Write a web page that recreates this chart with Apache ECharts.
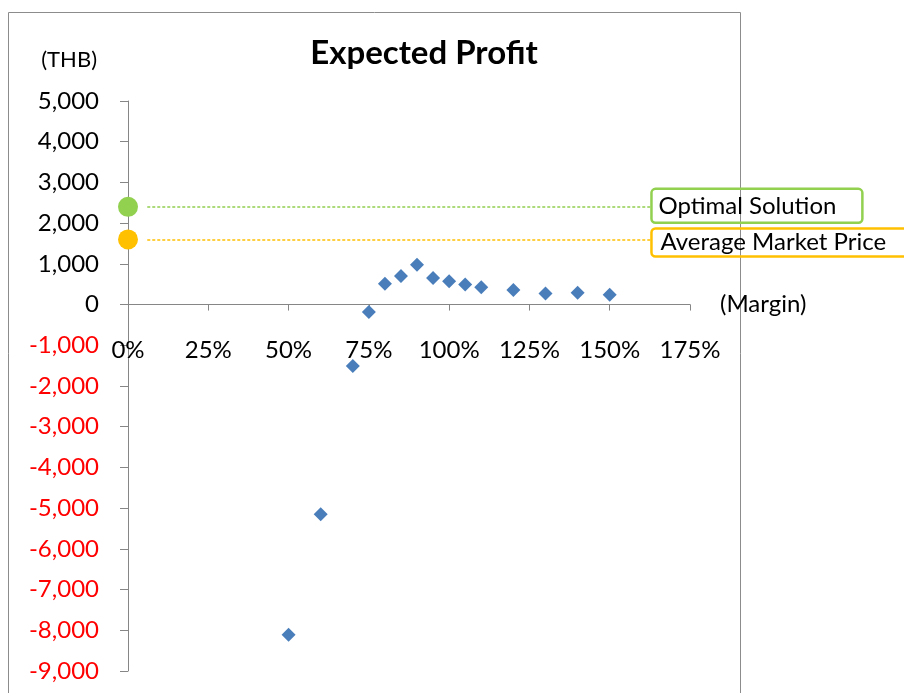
<!DOCTYPE html>
<html>
<head>
<meta charset="utf-8">
<script src="https://cdn.jsdelivr.net/npm/echarts@6/dist/echarts.min.js"></script>
<style>html,body{margin:0;padding:0;background:#fff;}#c{width:904px;height:693px;}</style>
</head>
<body>
<div id="c"></div>
<script>
// Data
var margins = [50, 60, 70, 75, 80, 85, 90, 95, 100, 105, 110, 120, 130, 140, 150];
var profits = [-8110, -5150, -1510, -180, 510, 700, 980, 650, 570, 490, 425, 355, 275, 290, 240];
var optimalProfit = 2400;
var marketProfit = 1600;
var refNames = ['Optimal Solution', 'Average Market Price'];
var lineStartX = 6;
var lineEndX = 163;
var xTicks = { min: 0, max: 175, interval: 25 };
var yTicks = { min: -9000, max: 5000, interval: 1000 };

var FONT = 'Lato';
var GRID = { left: 128, top: 101, width: 562, height: 570 };
// pixel distance from the grid bottom up to the zero line (layout only)
var zeroOffset = -GRID.height * (0 - yTicks.min) / (yTicks.max - yTicks.min);

var chart = echarts.init(document.getElementById('c'));

function refSeries(name, value, color, pad, labelOffset) {
  var ls = { color: color, type: [3, 2], width: 1.5, opacity: 1 };
  return {
    type: 'scatter',
    name: name,
    clip: false,
    symbol: 'circle',
    symbolSize: 20,
    itemStyle: { color: color, opacity: 1 },
    data: [[0, value]],
    z: 3,
    markLine: {
      silent: true,
      symbol: ['none', 'none'],
      lineStyle: ls,
      label: {
        show: true,
        position: 'end',
        distance: 0,
        offset: labelOffset,
        formatter: name,
        fontFamily: FONT,
        fontSize: 24,
        color: '#000',
        borderColor: color,
        borderWidth: 2.5,
        borderRadius: 4,
        padding: pad
      },
      data: [[{ coord: [lineStartX, value], lineStyle: ls }, { coord: [lineEndX, value] }]]
    }
  };
}

var option = {
  animation: false,
  backgroundColor: '#fff',
  textStyle: { fontFamily: FONT },
  title: {
    text: 'Expected Profit',
    left: 419,
    textAlign: 'center',
    top: 32,
    textStyle: { fontFamily: FONT, fontSize: 33, fontWeight: 'bold', color: '#000' }
  },
  graphic: [{
    type: 'rect',
    silent: true,
    shape: { x: 8.5, y: 12.5, width: 732, height: 700 },
    style: { fill: 'none', stroke: '#8c8c8c', lineWidth: 1 }
  }],
  grid: {
    left: GRID.left, top: GRID.top, width: GRID.width, height: GRID.height,
    outerBoundsMode: 'none', containLabel: false
  },
  xAxis: {
    type: 'value',
    position: 'bottom',
    offset: zeroOffset,
    min: xTicks.min, max: xTicks.max, interval: xTicks.interval,
    name: '(Margin)',
    nameLocation: 'end',
    nameGap: 30,
    nameTextStyle: { fontFamily: FONT, fontSize: 24, color: '#000' },
    axisLine: { onZero: false, lineStyle: { color: '#868686', width: 1 } },
    axisTick: { show: true, length: 6, lineStyle: { color: '#868686' } },
    splitLine: { show: false },
    axisLabel: {
      margin: 34,
      fontFamily: FONT, fontSize: 24, color: '#000',
      formatter: '{value}%'
    }
  },
  yAxis: {
    type: 'value',
    min: yTicks.min, max: yTicks.max, interval: yTicks.interval,
    name: '(THB)',
    nameLocation: 'end',
    nameGap: 30,
    nameTextStyle: { fontFamily: FONT, fontSize: 22, color: '#000', align: 'right', padding: [0, 31, 0, 0] },
    axisLine: { show: true, onZero: false, lineStyle: { color: '#868686', width: 1 } },
    axisTick: { show: true, length: 8, lineStyle: { color: '#868686' } },
    splitLine: { show: false },
    axisLabel: {
      margin: 29,
      fontFamily: FONT, fontSize: 24,
      color: function (v) { return Number(v) < 0 ? '#ff0000' : '#000'; },
      formatter: function (v) { return Number(v).toLocaleString('en-US'); }
    }
  },
  series: [
    {
      type: 'scatter',
      name: 'Expected Profit',
      symbol: 'diamond',
      symbolSize: 14,
      itemStyle: { color: '#4a7ebb', opacity: 1 },
      data: margins.map(function (m, i) { return [m, profits[i]]; }),
      z: 4
    },
    refSeries(refNames[0], optimalProfit, '#92d050', [5, 26, 5, 7], [0, -1]),
    refSeries(refNames[1], marketProfit, '#ffc000', [2, 30, 2, 9], [0, 3])
  ]
};
chart.setOption(option);
</script>
</body>
</html>
